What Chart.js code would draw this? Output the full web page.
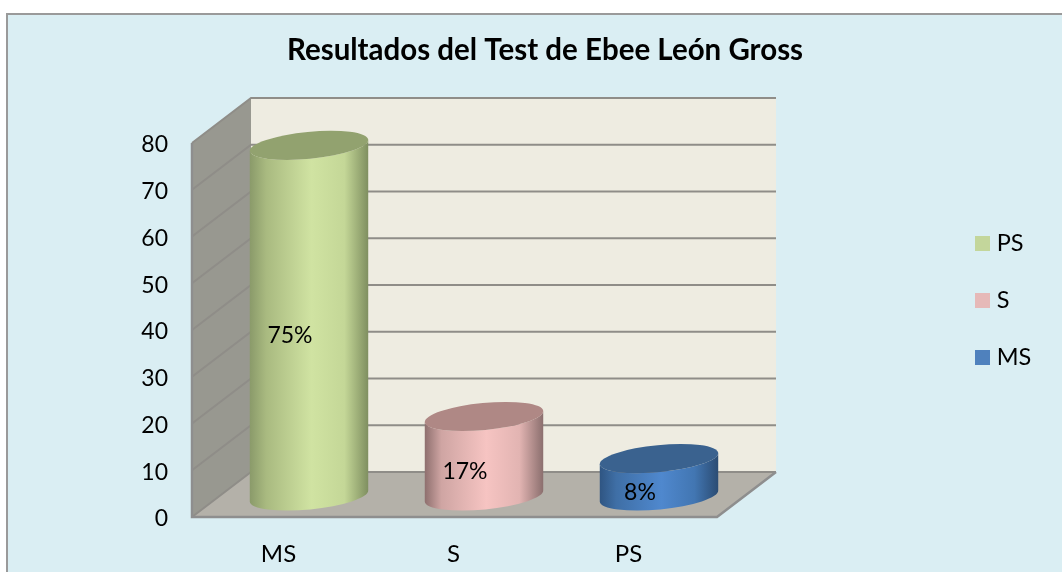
<!DOCTYPE html>
<html>
<head>
<meta charset="utf-8">
<style>html,body{margin:0;padding:0;background:#fff}canvas{display:block}</style>
<script src="https://cdn.jsdelivr.net/npm/chart.js@4/dist/chart.umd.min.js"></script>
</head>
<body>
<canvas id="c" width="1062" height="572"></canvas>
<script>
const titleText = 'Resultados del Test de Ebee León Gross';
const categories = ['MS', 'S', 'PS'];
const values = [75, 17, 8];
const valueLabels = ['75%', '17%', '8%'];
const legendNames = ['PS', 'S', 'MS'];
const barColors = ['#C3D69B', '#E6B9B8', '#4F81BD'];
const topColors = ['#92A26F', '#AF8885', '#3A628F'];
const sideStops = [
  ['#8A9A6A', '#A9BA80', '#D0E3A2', '#C4D797', '#7F8F60'],
  ['#8E6F6E', '#CFA5A3', '#F6C4C2', '#E2B4B2', '#8B6F6E'],
  ['#2F5582', '#3F6FA6', '#4F88CE', '#4276B2', '#2B4C73']
];
const FONT = 'Lato, Carlito, Calibri, sans-serif';
const DEPTH_X = 59, DEPTH_Y = 45;
const BAR_DX = 29.5, BAR_DY = 21;

const scene = {
  id: 'scene',
  beforeDraw(chart) {
    const c = chart.ctx;
    c.save();
    c.fillStyle = '#DAEEF3';
    c.fillRect(7, 14, 1062, 572);
    c.fillStyle = '#9A9A9A';
    c.fillRect(6, 13, 1056, 2);
    c.fillRect(6, 13, 2, 559);
    c.restore();
  },
  afterLayout(chart) {
    const l = chart.legend;
    l.left = 946.5; l.right = 1062;
    l.top = 198.25; l.bottom = 572;
    l.width = 115.5; l.height = 373.75;
    const t = chart.titleBlock;
    t.left = 28; t.right = 1062;
  },
  beforeDatasetsDraw(chart) {
    const c = chart.ctx, a = chart.chartArea, y = chart.scales.y;
    const L = a.left, R = a.right, T = a.top, B = a.bottom;
    c.save();
    c.beginPath();
    c.moveTo(L, T); c.lineTo(L + DEPTH_X, T - DEPTH_Y);
    c.lineTo(L + DEPTH_X, B - DEPTH_Y); c.lineTo(L, B); c.closePath();
    c.fillStyle = '#989890'; c.fill();
    c.fillStyle = '#EEECE1';
    c.fillRect(L + DEPTH_X, T - DEPTH_Y, R - L, B - T);
    c.beginPath();
    c.moveTo(L, B); c.lineTo(R, B);
    c.lineTo(R + DEPTH_X, B - DEPTH_Y); c.lineTo(L + DEPTH_X, B - DEPTH_Y); c.closePath();
    c.fillStyle = '#B4B1A9'; c.fill();
    c.strokeStyle = '#8F8D88'; c.lineWidth = 2;
    y.ticks.forEach(t => {
      const p = y.getPixelForValue(t.value);
      c.beginPath();
      c.moveTo(L, p);
      c.lineTo(L + DEPTH_X, p - DEPTH_Y);
      c.lineTo(R + DEPTH_X, p - DEPTH_Y);
      c.stroke();
    });
    c.beginPath();
    c.moveTo(L, T); c.lineTo(L, B); c.lineTo(R, B); c.lineTo(R + DEPTH_X, B - DEPTH_Y);
    c.strokeStyle = '#8E8E8E'; c.lineWidth = 2.5; c.stroke();
    c.restore();
  },
  beforeDatasetDraw(chart, args) {
    const c = chart.ctx;
    const RY = 13.5, ROT = -5.5 * Math.PI / 180;
    args.meta.data.forEach((el, i) => {
      const p = el.getProps(['x', 'y', 'base', 'width'], true);
      const cx = p.x + BAR_DX, rx = p.width / 2;
      const yt = p.y - BAR_DY, yb = p.base - BAR_DY;
      const ex = rx * Math.cos(ROT), ey = rx * Math.sin(ROT);
      const g = c.createLinearGradient(cx - ex, 0, cx + ex, 0);
      const st = sideStops[i];
      g.addColorStop(0, st[0]); g.addColorStop(0.14, st[1]);
      g.addColorStop(0.52, st[2]); g.addColorStop(0.8, st[3]); g.addColorStop(1, st[4]);
      c.save();
      c.beginPath();
      c.moveTo(cx - ex, yt - ey);
      c.lineTo(cx - ex, yb - ey);
      c.ellipse(cx, yb, rx, RY, ROT, Math.PI, 0, true);
      c.lineTo(cx + ex, yt + ey);
      c.ellipse(cx, yt, rx, RY, ROT, 0, Math.PI, false);
      c.closePath();
      c.fillStyle = g; c.fill();
      c.beginPath();
      c.ellipse(cx, yt, rx, RY, ROT, 0, Math.PI * 2);
      c.fillStyle = topColors[i]; c.fill();
      c.restore();
    });
    return false;
  },
  afterDatasetsDraw(chart) {
    const c = chart.ctx;
    const meta = chart.getDatasetMeta(0);
    c.save();
    c.fillStyle = '#000';
    c.font = '23px ' + FONT;
    c.textAlign = 'center';
    c.textBaseline = 'middle';
    meta.data.forEach((el, i) => {
      c.fillText(valueLabels[i], el.x + 10.5, (el.y + el.base) / 2 - BAR_DY + 15);
    });
    c.restore();
  }
};

new Chart(document.getElementById('c'), {
  type: 'bar',
  data: {
    labels: categories,
    datasets: [{ data: values, backgroundColor: barColors, barPercentage: 0.68, categoryPercentage: 1 }]
  },
  plugins: [scene],
  options: {
    responsive: false,
    animation: false,
    events: [],
    layout: { padding: { left: 0, right: 345, top: 0, bottom: 0 } },
    plugins: {
      tooltip: { enabled: false },
      title: {
        display: true,
        text: titleText,
        color: '#000',
        font: { family: FONT, size: 29.5, weight: 'bold', lineHeight: 1.2 },
        padding: { top: 32.5, bottom: 75.1 }
      },
      legend: {
        display: true,
        position: 'chartArea',
        align: 'start',
        labels: {
          boxWidth: 5,
          boxHeight: 5,
          padding: 33.5,
          color: '#000',
          font: { family: FONT, size: 23.5 },
          generateLabels: () => legendNames.map((n, i) => ({
            text: n, fillStyle: barColors[i], strokeStyle: barColors[i],
            lineWidth: 10, hidden: false, index: i, fontColor: '#000'
          }))
        }
      }
    },
    scales: {
      x: {
        grid: { display: false },
        border: { display: false },
        afterFit: s => { s.height = 55; },
        ticks: { color: '#000', font: { family: FONT, size: 24 }, padding: 15, labelOffset: -1, maxRotation: 0 }
      },
      y: {
        min: 0, max: 80,
        grid: { display: false },
        border: { display: false },
        afterFit: s => { s.width = 192; },
        ticks: { stepSize: 10, color: '#000', font: { family: FONT, size: 23 }, padding: 16, labelOffset: 2 }
      }
    }
  }
});
</script>
</body>
</html>
